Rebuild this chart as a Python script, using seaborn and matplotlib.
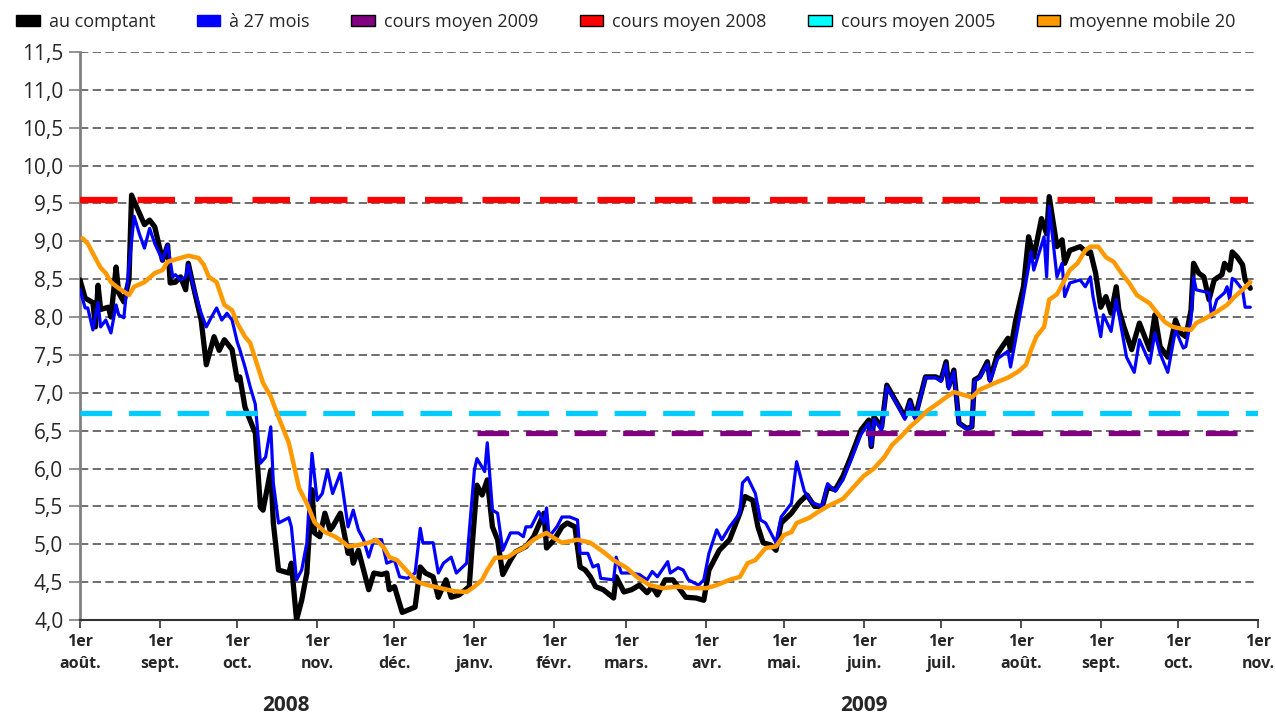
import matplotlib
matplotlib.use('Agg')
import matplotlib.pyplot as plt
import matplotlib.transforms as mtransforms
from matplotlib.patches import Patch
from matplotlib.ticker import FuncFormatter
import seaborn as sns
import pandas as pd

sns.set_style("white")
plt.rcParams['font.family'] = ['Open Sans', 'DejaVu Sans']

# jours écoulés depuis le 1er août 2008
START = pd.Timestamp('2008-08-01')

spot_day = [0, 2, 5, 6, 7, 8, 11, 12, 14, 15, 17, 19, 20, 22, 25, 27, 29, 32, 34, 35,
            37, 39, 41, 42, 44, 47, 49, 52, 54, 56, 59, 61, 62, 64, 67, 68, 70, 71, 74, 75,
            77, 81, 82, 84, 86, 88, 90, 91, 93, 95, 97, 98, 101, 104, 105, 106, 108, 112, 114, 117,
            119, 120, 122, 125, 130, 132, 134, 137, 139, 142, 144, 147, 151, 152, 154, 156, 158, 160, 162, 164,
            167, 169, 173, 176, 180, 181, 184, 187, 189, 192, 194, 196, 198, 200, 203, 207, 208, 211, 214, 217,
            220, 222, 224, 227, 230, 235, 239, 242, 244, 248, 252, 256, 258, 261, 263, 265, 268, 270, 272, 276,
            279, 282, 285, 288, 290, 293, 296, 299, 303, 306, 307, 308, 311, 313, 317, 320, 322, 324, 328, 332,
            334, 336, 337, 339, 341, 344, 346, 347, 349, 352, 353, 356, 360, 361, 363, 366, 368, 370, 373, 375,
            376, 379, 381, 382, 384, 388, 391, 392, 394, 396, 398, 400, 402, 403, 405, 408, 411, 415, 417, 419,
            422, 425, 427, 429, 431, 432, 434, 436, 438, 440, 443, 444, 446, 447, 449, 451, 452, 454]
spot_val = [8.49, 8.25, 8.19, 7.87, 8.42, 8.10, 8.13, 8.00, 8.66, 8.32, 8.20, 8.49, 9.61, 9.45, 9.22, 9.28, 9.19, 8.75, 8.95, 8.45,
            8.46, 8.53, 8.36, 8.71, 8.40, 7.96, 7.37, 7.74, 7.56, 7.70, 7.57, 7.17, 7.21, 6.81, 6.55, 6.47, 5.49, 5.45, 5.98, 5.28,
            4.66, 4.62, 4.75, 4.00, 4.26, 4.62, 5.72, 5.15, 5.10, 5.41, 5.19, 5.23, 5.41, 4.88, 4.97, 4.75, 4.92, 4.40, 4.62, 4.60,
            4.62, 4.40, 4.44, 4.10, 4.17, 4.70, 4.62, 4.57, 4.30, 4.53, 4.30, 4.33, 4.44, 4.92, 5.78, 5.65, 5.85, 5.23, 5.06, 4.60,
            4.79, 4.90, 4.97, 5.10, 5.41, 4.95, 5.06, 5.23, 5.28, 5.23, 4.70, 4.66, 4.57, 4.44, 4.40, 4.29, 4.57, 4.37, 4.40, 4.46,
            4.36, 4.44, 4.33, 4.53, 4.53, 4.30, 4.29, 4.26, 4.66, 4.92, 5.06, 5.41, 5.63, 5.58, 5.23, 5.02, 4.99, 4.92, 5.28, 5.41,
            5.55, 5.65, 5.50, 5.50, 5.75, 5.72, 5.90, 6.15, 6.51, 6.64, 6.29, 6.68, 6.55, 7.10, 6.86, 6.68, 6.90, 6.68, 7.21, 7.21,
            7.17, 7.41, 7.08, 7.30, 6.60, 6.53, 6.55, 7.17, 7.21, 7.41, 7.17, 7.52, 7.72, 7.56, 7.96, 8.40, 9.06, 8.79, 9.30, 9.10,
            9.59, 8.93, 9.02, 8.71, 8.88, 8.93, 8.84, 8.86, 8.58, 8.13, 8.27, 8.05, 8.40, 8.10, 7.87, 7.57, 7.92, 7.57, 8.03, 7.61,
            7.47, 7.96, 7.79, 7.74, 8.09, 8.71, 8.58, 8.53, 8.23, 8.49, 8.56, 8.71, 8.62, 8.86, 8.79, 8.69, 8.49, 8.38]

fwd_day = [0, 2, 3, 5, 7, 8, 10, 12, 14, 15, 17, 21, 23, 25, 27, 29, 32, 34, 36, 37,
           39, 41, 42, 44, 47, 49, 51, 53, 55, 57, 59, 61, 62, 64, 66, 68, 70, 72, 74, 75,
           77, 81, 82, 84, 86, 88, 90, 92, 94, 96, 98, 101, 104, 106, 108, 110, 112, 114, 117, 119,
           122, 124, 127, 130, 132, 133, 137, 139, 141, 144, 146, 150, 153, 154, 157, 158, 160, 162, 164, 167,
           170, 172, 173, 175, 178, 180, 181, 182, 185, 187, 190, 193, 194, 197, 199, 201, 202, 207, 208, 210,
           214, 217, 220, 222, 224, 228, 229, 232, 234, 236, 240, 242, 244, 247, 249, 252, 256, 257, 259, 262,
           264, 266, 270, 272, 276, 278, 281, 284, 288, 290, 293, 296, 299, 303, 306, 307, 308, 311, 313, 317,
           320, 322, 324, 328, 332, 334, 336, 337, 339, 341, 344, 346, 347, 349, 352, 353, 356, 360, 361, 366,
           369, 370, 374, 375, 376, 379, 381, 382, 384, 388, 390, 392, 393, 396, 397, 400, 402, 405, 406, 409,
           411, 415, 417, 419, 422, 425, 428, 429, 431, 432, 433, 438, 439, 441, 444, 445, 446, 447, 448, 451,
           452, 454]
fwd_val = [8.36, 8.12, 8.12, 7.83, 8.19, 7.87, 7.96, 7.79, 8.16, 8.03, 7.99, 9.33, 9.10, 8.91, 9.17, 8.97, 8.75, 8.95, 8.53, 8.56,
           8.49, 8.53, 8.69, 8.40, 8.05, 7.87, 8.00, 8.12, 7.96, 8.05, 7.96, 7.67, 7.57, 7.34, 7.08, 6.85, 6.07, 6.15, 6.55, 5.81,
           5.28, 5.35, 5.23, 4.53, 4.66, 5.02, 6.20, 5.58, 5.67, 5.98, 5.67, 5.94, 5.23, 5.45, 5.19, 5.06, 4.83, 5.06, 5.06, 4.75,
           4.79, 4.57, 4.55, 4.62, 5.21, 5.02, 5.02, 4.62, 4.75, 4.83, 4.62, 4.75, 5.98, 6.13, 5.96, 6.34, 5.45, 5.41, 4.92, 5.15,
           5.15, 5.10, 5.23, 5.23, 5.43, 5.28, 5.48, 5.10, 5.23, 5.36, 5.36, 5.32, 4.88, 4.88, 4.70, 4.73, 4.55, 4.53, 4.83, 4.62,
           4.62, 4.60, 4.53, 4.64, 4.57, 4.77, 4.62, 4.69, 4.66, 4.53, 4.46, 4.53, 4.88, 5.19, 5.06, 5.23, 5.41, 5.81, 5.88, 5.67,
           5.32, 5.28, 5.02, 5.36, 5.54, 6.09, 5.70, 5.55, 5.50, 5.80, 5.70, 5.85, 6.10, 6.45, 6.60, 6.30, 6.65, 6.50, 7.08, 6.85,
           6.65, 6.88, 6.65, 7.20, 7.20, 7.15, 7.38, 7.05, 7.28, 6.60, 6.52, 6.55, 7.15, 7.20, 7.38, 7.15, 7.45, 7.55, 7.34, 8.27,
           8.86, 8.62, 9.06, 8.53, 9.46, 8.53, 8.71, 8.27, 8.45, 8.49, 8.40, 8.53, 8.27, 7.74, 8.03, 7.81, 8.23, 7.66, 7.47, 7.27,
           7.70, 7.39, 7.79, 7.52, 7.27, 7.83, 7.59, 7.61, 7.96, 8.53, 8.36, 8.32, 8.00, 8.23, 8.32, 8.40, 8.23, 8.51, 8.49, 8.36,
           8.13, 8.13]

ma_day = [1, 3, 5, 8, 10, 12, 15, 19, 21, 25, 29, 32, 34, 38, 42, 46, 48, 50, 53, 56,
          59, 61, 64, 66, 69, 71, 74, 77, 79, 81, 85, 88, 91, 95, 99, 102, 104, 108, 112, 115,
          118, 120, 123, 127, 131, 135, 140, 145, 150, 153, 156, 158, 161, 166, 169, 172, 176, 178, 181, 183,
          187, 193, 198, 203, 207, 212, 216, 221, 226, 232, 237, 243, 247, 252, 256, 259, 262, 266, 270, 273,
          276, 278, 283, 286, 290, 296, 300, 304, 308, 312, 315, 319, 322, 325, 329, 332, 336, 339, 343, 346,
          349, 355, 360, 364, 367, 369, 371, 374, 376, 379, 382, 384, 387, 390, 392, 395, 398, 401, 404, 407,
          410, 415, 418, 421, 424, 428, 431, 433, 437, 441, 445, 448, 451, 454]
ma_val = [9.04, 8.97, 8.84, 8.65, 8.58, 8.46, 8.38, 8.29, 8.40, 8.46, 8.58, 8.62, 8.73, 8.77, 8.81, 8.78, 8.69, 8.53, 8.46, 8.16,
          8.09, 7.92, 7.74, 7.66, 7.34, 7.13, 6.95, 6.68, 6.51, 6.34, 5.74, 5.54, 5.29, 5.16, 5.10, 5.03, 4.97, 4.99, 5.02, 5.06,
          4.95, 4.83, 4.79, 4.64, 4.50, 4.46, 4.42, 4.38, 4.37, 4.44, 4.53, 4.66, 4.82, 4.83, 4.90, 4.95, 5.06, 5.10, 5.15, 5.10,
          5.02, 5.06, 5.02, 4.90, 4.79, 4.69, 4.57, 4.46, 4.42, 4.44, 4.42, 4.42, 4.46, 4.53, 4.57, 4.75, 4.79, 4.95, 4.97, 5.12,
          5.16, 5.28, 5.35, 5.42, 5.50, 5.60, 5.75, 5.90, 6.00, 6.15, 6.31, 6.44, 6.55, 6.64, 6.77, 6.84, 6.94, 7.01, 6.97, 6.94,
          7.04, 7.13, 7.20, 7.28, 7.37, 7.57, 7.74, 7.87, 8.23, 8.30, 8.49, 8.62, 8.71, 8.88, 8.93, 8.93, 8.79, 8.73, 8.58, 8.45,
          8.29, 8.18, 8.05, 7.93, 7.87, 7.84, 7.83, 7.92, 7.99, 8.07, 8.16, 8.27, 8.36, 8.46]

avg_2008 = 9.55
avg_2005 = 6.73
avg_2009 = 6.47
avg_2009_from = '2009-01-02'
avg_end = '2009-10-28'

month_names = ['août.', 'sept.', 'oct.', 'nov.', 'déc.', 'janv.', 'févr.', 'mars.',
               'avr.', 'mai.', 'juin.', 'juil.', 'août.', 'sept.', 'oct.', 'nov.']
years = ['2008', '2009']
year_pos = ['2008-10-20', '2009-06-01']


def to_frame(days, values):
    return pd.DataFrame({'date': START + pd.to_timedelta(days, unit='D'), 'value': values})


spot = to_frame(spot_day, spot_val)
fwd = to_frame(fwd_day, fwd_val)
ma = to_frame(ma_day, ma_val)

fig = plt.figure(figsize=(12.76, 7.15), dpi=100)
ax = fig.add_axes([0.0627, 0.1329, 0.9232, 0.7944])

c_spot, c_fwd, c_2009, c_2008, c_2005, c_ma = '#000000', '#0000FF', '#800080', '#FF0000', '#00CCFF', '#FF9900'

sns.lineplot(data=spot, x='date', y='value', ax=ax, color=c_spot, linewidth=3.8, zorder=3)
sns.lineplot(data=fwd, x='date', y='value', ax=ax, color=c_fwd, linewidth=2.3, zorder=4)

dash = (0, (6, 3.2))
ax.hlines(avg_2009, pd.Timestamp(avg_2009_from), pd.Timestamp(avg_end), colors=c_2009,
          linewidth=3.8, linestyles=[dash], zorder=5)
ax.hlines(avg_2008, START, pd.Timestamp(avg_end), colors=c_2008,
          linewidth=4.5, linestyles=[dash], zorder=5)
ax.hlines(avg_2005, START, pd.Timestamp('2009-11-01'), colors=c_2005,
          linewidth=3.8, linestyles=[dash], zorder=5)

sns.lineplot(data=ma, x='date', y='value', ax=ax, color=c_ma, linewidth=3.2, zorder=6)

ax.set_xlim(START, pd.Timestamp('2009-11-01'))
ax.set_ylim(4.0, 11.5)
ax.set_yticks([4.0 + 0.5 * i for i in range(16)])
ax.yaxis.set_major_formatter(FuncFormatter(lambda v, p: f"{v:.1f}".replace('.', ',')))
ax.tick_params(axis='y', labelsize=15, length=8, width=1.2, color='#808080', direction='out', pad=4, left=True)

ticks = pd.date_range(START, '2009-11-01', freq='MS')
ax.set_xticks(ticks)
ax.set_xticklabels(['1er\n' + m for m in month_names], fontsize=11.5, fontweight='bold', linespacing=1.55)
ax.tick_params(axis='x', length=6, width=1.2, color='#333333', direction='out', pad=4, bottom=True)

ax.yaxis.grid(True, linestyle=(0, (5, 2.6)), color='#555555', linewidth=1.2)
ax.xaxis.grid(False)
ax.set_axisbelow(True)
ax.set_xlabel('')
ax.set_ylabel('')

for side in ['top', 'right']:
    ax.spines[side].set_visible(False)
ax.spines['left'].set_color('#808080')
ax.spines['left'].set_linewidth(2)
ax.spines['bottom'].set_color('#333333')
ax.spines['bottom'].set_linewidth(1.5)

trans = mtransforms.blended_transform_factory(ax.transData, ax.transAxes)
for lab, pos in zip(years, year_pos):
    ax.text(pd.Timestamp(pos), -0.15, lab, transform=trans, ha='center', va='center',
            fontsize=15, fontweight='bold')

handles = [
    Patch(facecolor=c_spot, edgecolor=c_spot),
    Patch(facecolor=c_fwd, edgecolor=c_fwd),
    Patch(facecolor=c_2009, edgecolor='black'),
    Patch(facecolor=c_2008, edgecolor='black'),
    Patch(facecolor='#00FFFF', edgecolor='black'),
    Patch(facecolor=c_ma, edgecolor='black'),
]
labels = ['au comptant', 'à 27 mois', 'cours moyen 2009', 'cours moyen 2008',
          'cours moyen 2005', 'moyenne mobile 20']
fig.legend(handles, labels, loc='upper left', bbox_to_anchor=(0.0, 1.005), ncol=6, frameon=False,
           fontsize=13, handlelength=1.3, handleheight=0.6, handletextpad=0.5, columnspacing=2.3)

fig.savefig('out.png', dpi=100)
